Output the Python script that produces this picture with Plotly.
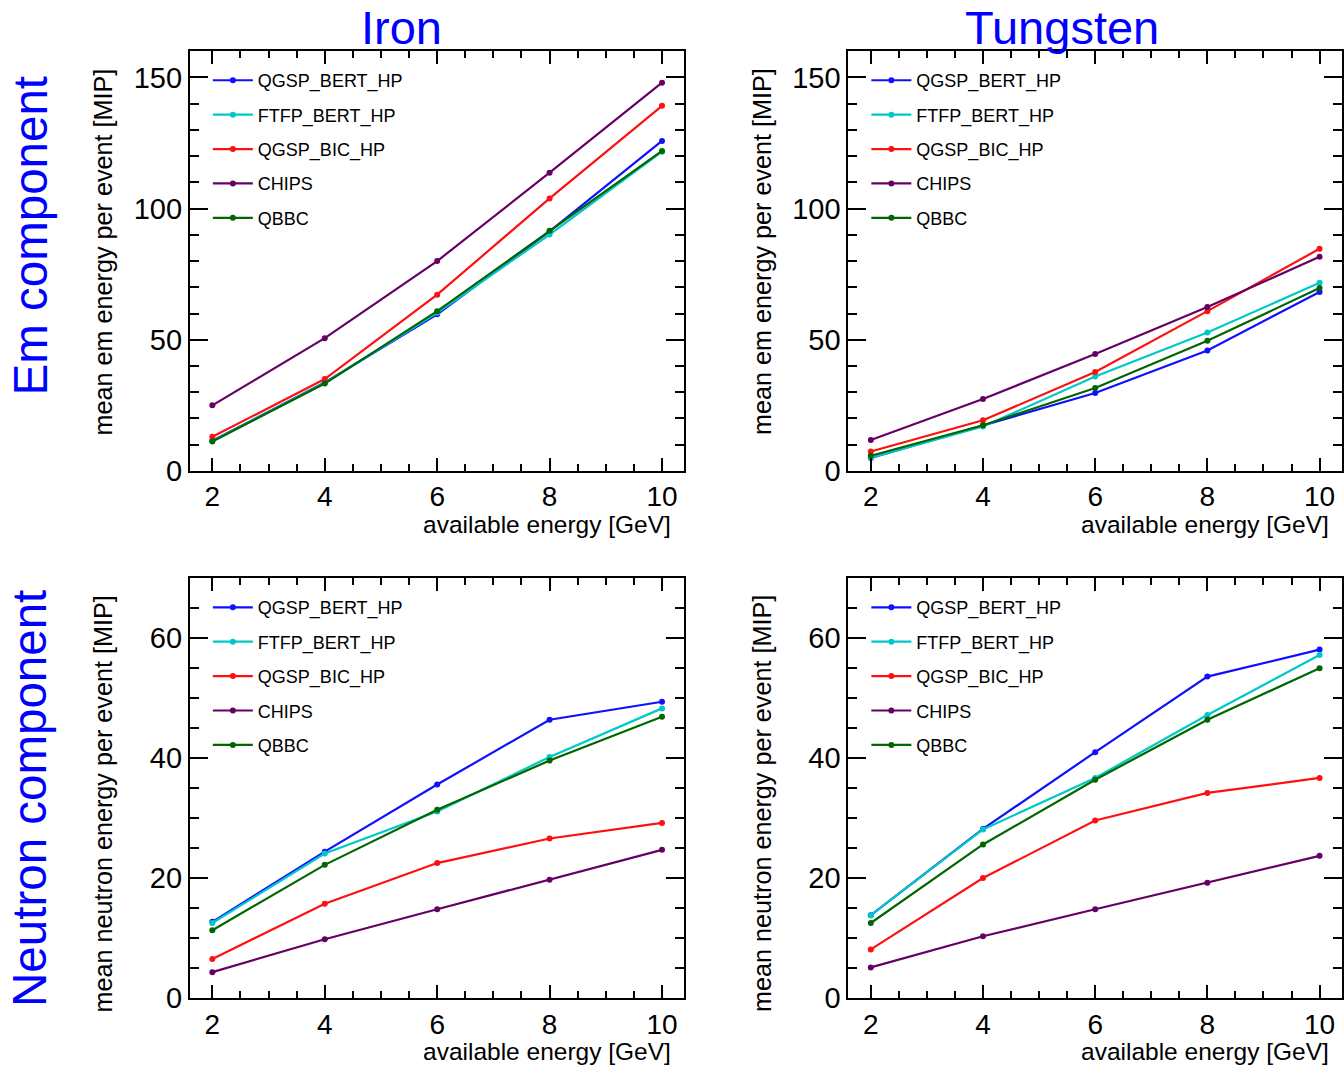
import plotly.graph_objects as go

W, H = 1344, 1077

energies = [2, 4, 6, 8, 10]
models = ["QGSP_BERT_HP", "FTFP_BERT_HP", "QGSP_BIC_HP", "CHIPS", "QBBC"]
colors = ["#1010ff", "#00c8c8", "#ff1010", "#660066", "#006600"]

# Iron, Em component
iron_em_qgsp_bert = [11.5, 33.7, 59.7, 91.3, 125.8]
iron_em_ftfp_bert = [11.4, 33.5, 60.3, 90.1, 121.7]
iron_em_qgsp_bic = [13.0, 35.0, 67.2, 103.9, 139.2]
iron_em_chips = [25.0, 50.6, 80.0, 113.7, 148.0]
iron_em_qbbc = [11.2, 33.3, 60.9, 91.6, 122.0]

# Tungsten, Em component
tungsten_em_qgsp_bert = [4.9, 17.4, 29.7, 45.9, 68.2]
tungsten_em_ftfp_bert = [5.0, 16.9, 36.0, 52.8, 71.7]
tungsten_em_qgsp_bic = [7.4, 19.3, 37.7, 60.9, 84.7]
tungsten_em_chips = [11.8, 27.4, 44.6, 62.5, 81.6]
tungsten_em_qbbc = [5.8, 17.4, 31.6, 49.6, 69.7]

# Iron, Neutron component
iron_n_qgsp_bert = [12.7, 24.4, 35.6, 46.4, 49.4]
iron_n_ftfp_bert = [12.5, 24.1, 31.1, 40.2, 48.3]
iron_n_qgsp_bic = [6.5, 15.7, 22.5, 26.6, 29.2]
iron_n_chips = [4.3, 9.8, 14.8, 19.7, 24.7]
iron_n_qbbc = [11.3, 22.2, 31.4, 39.6, 46.9]

# Tungsten, Neutron component
tungsten_n_qgsp_bert = [13.8, 28.2, 41.0, 53.6, 58.1]
tungsten_n_ftfp_bert = [13.8, 28.1, 36.7, 47.2, 57.2]
tungsten_n_qgsp_bic = [8.1, 20.0, 29.6, 34.2, 36.7]
tungsten_n_chips = [5.1, 10.3, 14.8, 19.2, 23.7]
tungsten_n_qbbc = [12.5, 25.6, 36.4, 46.4, 55.0]

column_titles = ["Iron", "Tungsten"]
row_titles = ["Em component", "Neutron component"]
y_titles = ["mean em energy per event [MIP]", "mean neutron energy per event [MIP]"]
x_title = "available energy [GeV]"

panels = [
    [iron_em_qgsp_bert, iron_em_ftfp_bert, iron_em_qgsp_bic, iron_em_chips, iron_em_qbbc],
    [tungsten_em_qgsp_bert, tungsten_em_ftfp_bert, tungsten_em_qgsp_bic, tungsten_em_chips, tungsten_em_qbbc],
    [iron_n_qgsp_bert, iron_n_ftfp_bert, iron_n_qgsp_bic, iron_n_chips, iron_n_qbbc],
    [tungsten_n_qgsp_bert, tungsten_n_ftfp_bert, tungsten_n_qgsp_bic, tungsten_n_chips, tungsten_n_qbbc],
]

# pixel frames (left, right, top, bottom)
frames = [
    (190, 685, 52, 478),
    (849, 1343, 52, 478),
    (190, 685, 587, 1013),
    (849, 1343, 587, 1013),
]
y_ranges = [[0, 160], [0, 160], [0, 70], [0, 70]]
y_dticks = [50, 50, 20, 20]
y_minor = [10, 10, 5, 5]

def px(x):
    return x / W

def py(y):
    return 1 - y / H

fig = go.Figure()
layout = {}
annotations = []
FONT = "Liberation Sans, Arial, sans-serif"

for i, (series, fr) in enumerate(zip(panels, frames)):
    n = "" if i == 0 else str(i + 1)
    xa, ya = "x" + n, "y" + n
    leg = "legend" if i == 0 else "legend" + str(i + 1)
    for j, (m, vals) in enumerate(zip(models, series)):
        fig.add_trace(go.Scatter(
            x=energies, y=vals, name=m, mode="lines+markers",
            line=dict(color=colors[j], width=2.2),
            marker=dict(color=colors[j], size=6),
            xaxis=xa, yaxis=ya, legend=leg, legendgroup=f"p{i}_{j}",
        ))
    l, r, t, b = fr
    common = dict(
        showline=True, linecolor="black", linewidth=2, mirror="ticks",
        ticks="inside", tickcolor="black", tickwidth=2,
        showgrid=False, zeroline=False,
        tickfont=dict(family=FONT, size=29, color="black"),
    )
    layout["xaxis" + n] = dict(
        domain=[px(l), px(r)], anchor=ya, range=[1.6, 10.4],
        tickvals=energies, ticklen=13,
        tickfont=dict(family=FONT, size=28, color="black"),
        minor=dict(ticks="inside", ticklen=7, dtick=0.5, tick0=0, tickcolor="black", tickwidth=2, showgrid=False),
        **{k: v for k, v in common.items() if k != "tickfont"},
    )
    layout["yaxis" + n] = dict(
        domain=[py(b), py(t)], anchor=xa, range=y_ranges[i],
        dtick=y_dticks[i], tick0=0, ticklen=18,
        minor=dict(ticks="inside", ticklen=9, dtick=y_minor[i], tick0=0, tickcolor="black", tickwidth=2, showgrid=False),
        **common,
    )
    layout[leg] = dict(
        x=px(l + 18), y=py(t + 11), xanchor="left", yanchor="top",
        bgcolor="rgba(0,0,0,0)", borderwidth=0, itemwidth=40,
        font=dict(family=FONT, size=18, color="black"),
        tracegroupgap=8,
    )
    # y-axis title
    annotations.append(dict(
        text=y_titles[i // 2], textangle=-90, showarrow=False,
        xref="paper", yref="paper", x=px(l - 87), y=py(t + 15),
        xanchor="center", yanchor="top",
        font=dict(family=FONT, size=25.2, color="black"),
    ))
    # x-axis title
    annotations.append(dict(
        text=x_title, showarrow=False,
        xref="paper", yref="paper", x=px(r - 12), y=py(b + 54),
        xanchor="right", yanchor="middle", borderpad=0,
        font=dict(family=FONT, size=24.5, color="black"),
    ))

for k, t in enumerate(column_titles):
    cx = [402, 1063][k]
    annotations.append(dict(
        text=t, showarrow=False, xref="paper", yref="paper",
        x=px(cx), y=py(28), xanchor="center", yanchor="middle",
        font=dict(family=FONT, size=47, color="#0000ff"),
    ))
for k, t in enumerate(row_titles):
    cy = [239, 810][k]
    annotations.append(dict(
        text=t, textangle=-90, showarrow=False, xref="paper", yref="paper",
        x=px(30), y=py(cy), xanchor="center", yanchor="middle",
        font=dict(family=FONT, size=47.5, color="#0000ff"),
    ))

fig.update_layout(
    width=W, height=H, margin=dict(l=0, r=0, t=0, b=0),
    paper_bgcolor="white", plot_bgcolor="white",
    showlegend=True, annotations=annotations, **layout,
)

fig.write_html("out.html")
